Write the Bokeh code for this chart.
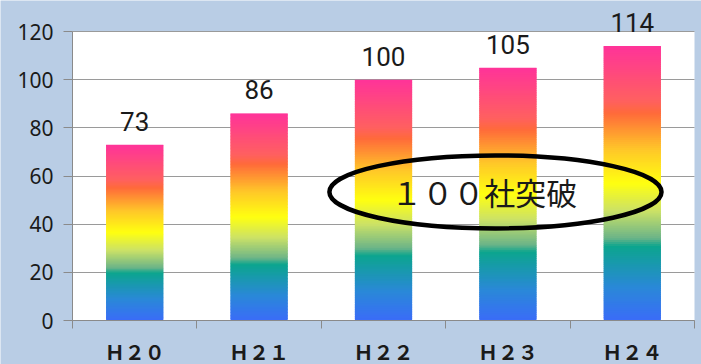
from bokeh.plotting import figure
from bokeh.models import Range1d, FixedTicker, ColumnDataSource, BoxAnnotation
from bokeh.core.properties import value
from bokeh.embed import file_html
from bokeh.resources import INLINE

# ---- data ----
years = ["Ｈ２０", "Ｈ２１", "Ｈ２２", "Ｈ２３", "Ｈ２４"]
companies = [73, 86, 100, 105, 114]
y_ticks = [0, 20, 40, 60, 80, 100, 120]
y_max = 120
callout_text = "１００社突破"

# ---- style ----
W, H = 701, 364
PLOT_L, PLOT_R, PLOT_T, PLOT_B = 72, 694, 31, 320   # white plot area in pixels
BG = "#b9cde5"
GRID = "#9a9a9a"
AXIS = "#8a8a8a"
TEXT = "#1a1a1a"
BAR_WIDTH = 0.46
N_SEG = 140

# rainbow stops, bottom (0) to top (1) of each bar
STOPS = [
    (0.00, "#3a6cf8"),
    (0.12, "#2a88d8"),
    (0.27, "#0ca58e"),
    (0.30, "#6cb488"),
    (0.40, "#cce266"),
    (0.50, "#ffff10"),
    (0.62, "#ffc828"),
    (0.755, "#ff6a3a"),
    (0.80, "#ff6060"),
    (1.00, "#ff3399"),
]


def hex_to_rgb(h):
    h = h.lstrip("#")
    return tuple(int(h[i:i + 2], 16) for i in (0, 2, 4))


def gradient_color(t):
    for (t0, c0), (t1, c1) in zip(STOPS[:-1], STOPS[1:]):
        if t0 <= t <= t1:
            a = (t - t0) / (t1 - t0) if t1 > t0 else 0
            r0, g0, b0 = hex_to_rgb(c0)
            r1, g1, b1 = hex_to_rgb(c1)
            r = round(r0 + (r1 - r0) * a)
            g = round(g0 + (g1 - g0) * a)
            b = round(b0 + (b1 - b0) * a)
            return "#%02x%02x%02x" % (r, g, b)
    return STOPS[-1][1]


# the frame spans the whole canvas; the white plot area is a box inside it
n = len(years)
px_x = (PLOT_R - PLOT_L) / n
px_y = (PLOT_B - PLOT_T) / y_max
x_range = Range1d(-PLOT_L / px_x, n + (W - PLOT_R) / px_x)
y_range = Range1d(-(H - PLOT_B) / px_y, y_max + PLOT_T / px_y)

p = figure(
    width=W, height=H, x_range=x_range, y_range=y_range,
    output_backend="svg", toolbar_location=None,
    min_border=0,
)
p.background_fill_color = BG
p.border_fill_color = BG
p.outline_line_color = None

p.add_layout(BoxAnnotation(left=0, right=n, bottom=0, top=y_max,
                           fill_color="white", fill_alpha=1.0,
                           line_color=None, level="image"))

# horizontal grid lines, limited to the plot area
p.xgrid.grid_line_color = None
if "cross_bounds" in p.ygrid.properties():
    p.ygrid.ticker = FixedTicker(ticks=y_ticks)
    p.ygrid.grid_line_color = GRID
    p.ygrid.cross_bounds = (0, n)
else:
    p.ygrid.grid_line_color = None
    p.segment(x0=[0] * len(y_ticks), x1=[n] * len(y_ticks), y0=y_ticks, y1=y_ticks,
              line_color=GRID, line_width=1)

# gradient-filled bars built from overlapping horizontal slices
lefts, rights, bottoms, tops, colors = [], [], [], [], []
for i, v in enumerate(companies):
    cx = i + 0.5
    for k in range(N_SEG):
        lefts.append(cx - BAR_WIDTH / 2)
        rights.append(cx + BAR_WIDTH / 2)
        bottoms.append(v * k / N_SEG)
        tops.append(min(v, v * (k + 1.8) / N_SEG))
        colors.append(gradient_color((k + 0.5) / N_SEG))
seg = ColumnDataSource(dict(left=lefts, right=rights, bottom=bottoms, top=tops, color=colors))
p.quad(left="left", right="right", bottom="bottom", top="top", source=seg,
       fill_color="color", line_color=None)

centers = [i + 0.5 for i in range(n)]

# value labels above bars
lab = ColumnDataSource(dict(x=centers, y=companies, t=[str(v) for v in companies]))
p.text(x="x", y="y", text="t", source=lab, y_offset=-14,
       text_align="center", text_baseline="bottom",
       text_font=value("Roboto"), text_font_size="26px", text_color=TEXT)

# callout
p.ellipse(x=3.40, y=53.4, width=2.67, height=30.3, fill_alpha=0,
          line_color="black", line_width=4.5)
p.text(x=[3.31], y=[53.4], text=[callout_text], text_align="center",
       text_baseline="middle", text_font=value("Noto Sans CJK JP"),
       text_font_size="31px", text_color=TEXT)

# value axis pinned to the left edge of the plot area
p.yaxis.fixed_location = 0
p.yaxis.bounds = (0, y_max)
p.yaxis.ticker = FixedTicker(ticks=y_ticks)
p.yaxis.axis_line_color = AXIS
p.yaxis.major_tick_line_color = AXIS
p.yaxis.major_tick_out = 9
p.yaxis.major_tick_in = 0
p.yaxis.minor_tick_line_color = None
p.yaxis.major_label_standoff = 10
p.yaxis.major_label_text_font = "Noto Sans"
p.yaxis.major_label_text_font_size = "21px"
p.yaxis.major_label_text_color = TEXT

# category axis pinned to zero, ticks at category boundaries
p.xaxis.fixed_location = 0
p.xaxis.bounds = (0, n)
p.xaxis.ticker = FixedTicker(ticks=centers, minor_ticks=list(range(n + 1)))
p.xaxis.major_label_overrides = {c: y for c, y in zip(centers, years)}
p.xaxis.axis_line_color = AXIS
p.xaxis.major_tick_line_color = None
p.xaxis.major_tick_out = 0
p.xaxis.major_tick_in = 0
p.xaxis.minor_tick_line_color = AXIS
p.xaxis.minor_tick_out = 8
p.xaxis.minor_tick_in = 0
p.xaxis.major_label_standoff = 8
p.xaxis.major_label_text_font = "Noto Sans CJK JP"
p.xaxis.major_label_text_font_size = "20px"
p.xaxis.major_label_text_font_style = "bold"
p.xaxis.major_label_text_color = TEXT

open("out.html", "w").write(file_html(p, INLINE))
